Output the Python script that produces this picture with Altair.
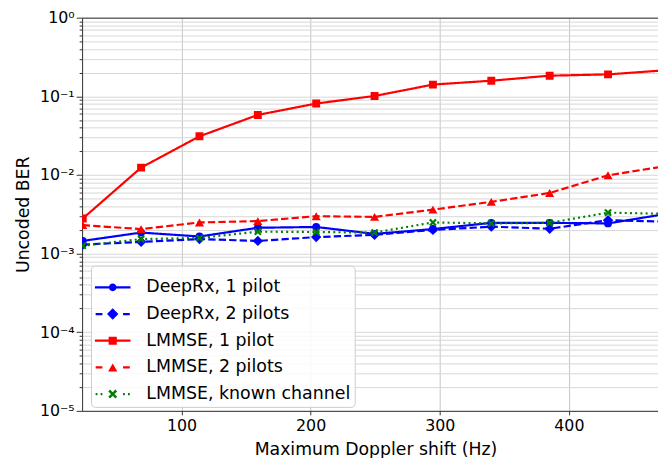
import altair as alt
import pandas as pd

# ---------------- data ----------------
doppler_hz = [23.5, 68.7, 113.9, 159.1, 204.3, 249.5, 294.7, 339.9, 385.1, 430.3, 475.5]

series_names = [
    "DeepRx, 1 pilot",
    "DeepRx, 2 pilots",
    "LMMSE, 1 pilot",
    "LMMSE, 2 pilots",
    "LMMSE, known channel",
]
deeprx_1_pilot = [1.45e-3, 1.85e-3, 1.65e-3, 2.13e-3, 2.18e-3, 1.78e-3, 2.05e-3, 2.46e-3, 2.46e-3, 2.42e-3, 3.2e-3]
deeprx_2_pilots = [1.30e-3, 1.41e-3, 1.53e-3, 1.45e-3, 1.62e-3, 1.73e-3, 2.0e-3, 2.2e-3, 2.07e-3, 2.66e-3, 2.55e-3]
lmmse_1_pilot = [2.79e-3, 0.0124, 0.031, 0.058, 0.081, 0.101, 0.141, 0.158, 0.183, 0.190, 0.215]
lmmse_2_pilots = [2.30e-3, 2.05e-3, 2.49e-3, 2.59e-3, 2.99e-3, 2.93e-3, 3.62e-3, 4.55e-3, 5.9e-3, 9.9e-3, 0.013]
lmmse_known = [1.26e-3, 1.53e-3, 1.58e-3, 1.90e-3, 1.88e-3, 1.85e-3, 2.49e-3, 2.42e-3, 2.46e-3, 3.32e-3, 3.2e-3]
series_values = [deeprx_1_pilot, deeprx_2_pilots, lmmse_1_pilot, lmmse_2_pilots, lmmse_known]

x_tick_values = [100, 200, 300, 400]
y_tick_values = [1, 0.1, 0.01, 0.001, 0.0001, 0.00001]
y_tick_labels = ["10⁰", "10⁻¹", "10⁻²", "10⁻³", "10⁻⁴", "10⁻⁵"]
y_minor_values = [k * 10.0 ** e for e in range(-5, 0) for k in range(2, 10)]

x_domain = [23, 469]
y_domain = [1e-5, 1]

# ---------------- styles ----------------
colors = ["#0000ff", "#0000ff", "#ff0000", "#ff0000", "#008000"]
dashes = [[1, 0], [7.4, 3.2], [1, 0], [7.4, 3.2], [2, 3.3]]

X_PATH = ("M-0.6,-1L0,-0.4L0.6,-1L1,-0.6L0.4,0L1,0.6L0.6,1L0,0.4"
          "L-0.6,1L-1,0.6L-0.4,0L-1,-0.6Z")
plot_shapes = ["circle", "diamond", "square", "triangle-up", X_PATH]
plot_sizes = [64, 110, 64, 85, 60]


def rect(x0, x1, t=0.062):
    return f"M{x0},{-t}H{x1}V{t}H{x0}Z"


def circle(r):
    return f"M{r},0A{r},{r} 0 1,1 {-r},0A{r},{r} 0 1,1 {r},0Z"


def diamond(r):
    return f"M0,{-r}L{r},0L0,{r}L{-r},0Z"


def square(r):
    return f"M{-r},{-r}H{r}V{r}H{-r}Z"


def tri(r):
    h = round(r * 0.866, 3)
    return f"M0,{-h}L{r},{h}L{-r},{h}Z"


def xmark(r):
    s = r
    pts = [(-0.6, -1), (0, -0.4), (0.6, -1), (1, -0.6), (0.4, 0), (1, 0.6), (0.6, 1),
           (0, 0.4), (-0.6, 1), (-1, 0.6), (-0.4, 0), (-1, -0.6)]
    return "M" + "L".join(f"{round(px * s, 3)},{round(py * s, 3)}" for px, py in pts) + "Z"


solid = rect(-1, 1)
dashed = rect(-0.96, -0.58) + rect(0.58, 0.96)
dotted = rect(-0.96, -0.86) + rect(-0.68, -0.58) + rect(0.58, 0.68) + rect(0.86, 0.96)
legend_shapes = [
    solid + circle(0.22),
    dashed + diamond(0.32),
    solid + square(0.23),
    dashed + tri(0.26),
    dotted + xmark(0.25),
]

rows = []
for name, vals in zip(series_names, series_values):
    for xv, yv in zip(doppler_hz, vals):
        rows.append({"doppler": xv, "ber": yv, "series": name})
df = pd.DataFrame(rows)

FONT = "DejaVu Sans"
major_test = "indexof(" + str(y_tick_values) + ", datum.value) >= 0"
label_expr = "".join(
    f"datum.value == {repr(v)} ? '{l}' : " for v, l in zip(y_tick_values, y_tick_labels)
) + "''"

x_axis = alt.Axis(
    values=x_tick_values, title="Maximum Doppler shift (Hz)", grid=True,
    gridColor="#c4c4c4", gridWidth=1, tickSize=4, tickColor="#333",
    domainColor="#333", labelFontSize=16, titleFontSize=17.5, labelPadding=3,
    titlePadding=7.5, titleX=297, titleAlign="center", labelColor="#000",
    titleColor="#000", titleFontWeight="normal", labelFont=FONT, titleFont=FONT,
)
y_axis = alt.Axis(
    values=y_tick_values + y_minor_values, labelExpr=label_expr,
    title="Uncoded BER", grid=True, gridColor="#d6d6d6", gridWidth=1,
    tickSize={"condition": {"test": major_test, "value": 6}, "value": 3},
    tickColor="#333", domainColor="#333", labelFontSize=16, titleFontSize=17.5,
    labelPadding=2, titlePadding=7, labelColor="#000", titleColor="#000",
    titleFontWeight="normal", labelFont=FONT, titleFont=FONT, labelBound=False,
    labelFlush=False,
)


def enc_x():
    return alt.X("doppler:Q", scale=alt.Scale(domain=x_domain, nice=False, zero=False), axis=x_axis)


def enc_y():
    return alt.Y("ber:Q", scale=alt.Scale(type="log", domain=y_domain, nice=False), axis=y_axis)


layers = []
for i, name in enumerate(series_names):
    sub = alt.Chart(df).transform_filter(alt.datum.series == name)
    line = sub.mark_line(
        color=colors[i], strokeWidth=2.2, strokeDash=dashes[i], clip=True
    ).encode(x=enc_x(), y=enc_y())
    pts = sub.mark_point(
        filled=True, color=colors[i], opacity=1, size=plot_sizes[i],
        shape=plot_shapes[i], clip=True, strokeWidth=0
    ).encode(x=enc_x(), y=enc_y())
    layers += [line, pts]

inner = alt.layer(*layers)

legend_layer = alt.Chart(df).transform_filter("false").mark_point(filled=True, opacity=1).encode(
    x=alt.X("doppler:Q", scale=alt.Scale(domain=x_domain, nice=False, zero=False),
            axis=alt.Axis(orient="top", labels=False, ticks=False, grid=False, title=None,
                          domainColor="#333")),
    color=alt.Color("series:N", scale=alt.Scale(domain=series_names, range=colors),
                    legend=alt.Legend(
                        title=None, orient="none", legendX=9, legendY=251,
                        symbolSize=1296, symbolStrokeWidth=0, labelFontSize=17.6,
                        labelFont=FONT, labelColor="#000", labelOffset=16,
                        labelLimit=400, rowPadding=-1.7, padding=4,
                        strokeColor="#cccccc",
                        fillColor="rgba(255,255,255,0.85)", cornerRadius=4,
                        symbolOpacity=1)),
    shape=alt.Shape("series:N", scale=alt.Scale(domain=series_names, range=legend_shapes)),
)

chart = alt.layer(inner, legend_layer).resolve_axis(x="independent").properties(
    width=583, height=398,
    autosize=alt.AutoSizeParams(type="none"),
    padding={"left": 75, "top": 7, "right": 0, "bottom": 52},
).configure_view(stroke=None).configure(font=FONT)

chart.save("out.html", embed_options={"renderer": "svg", "actions": False})
